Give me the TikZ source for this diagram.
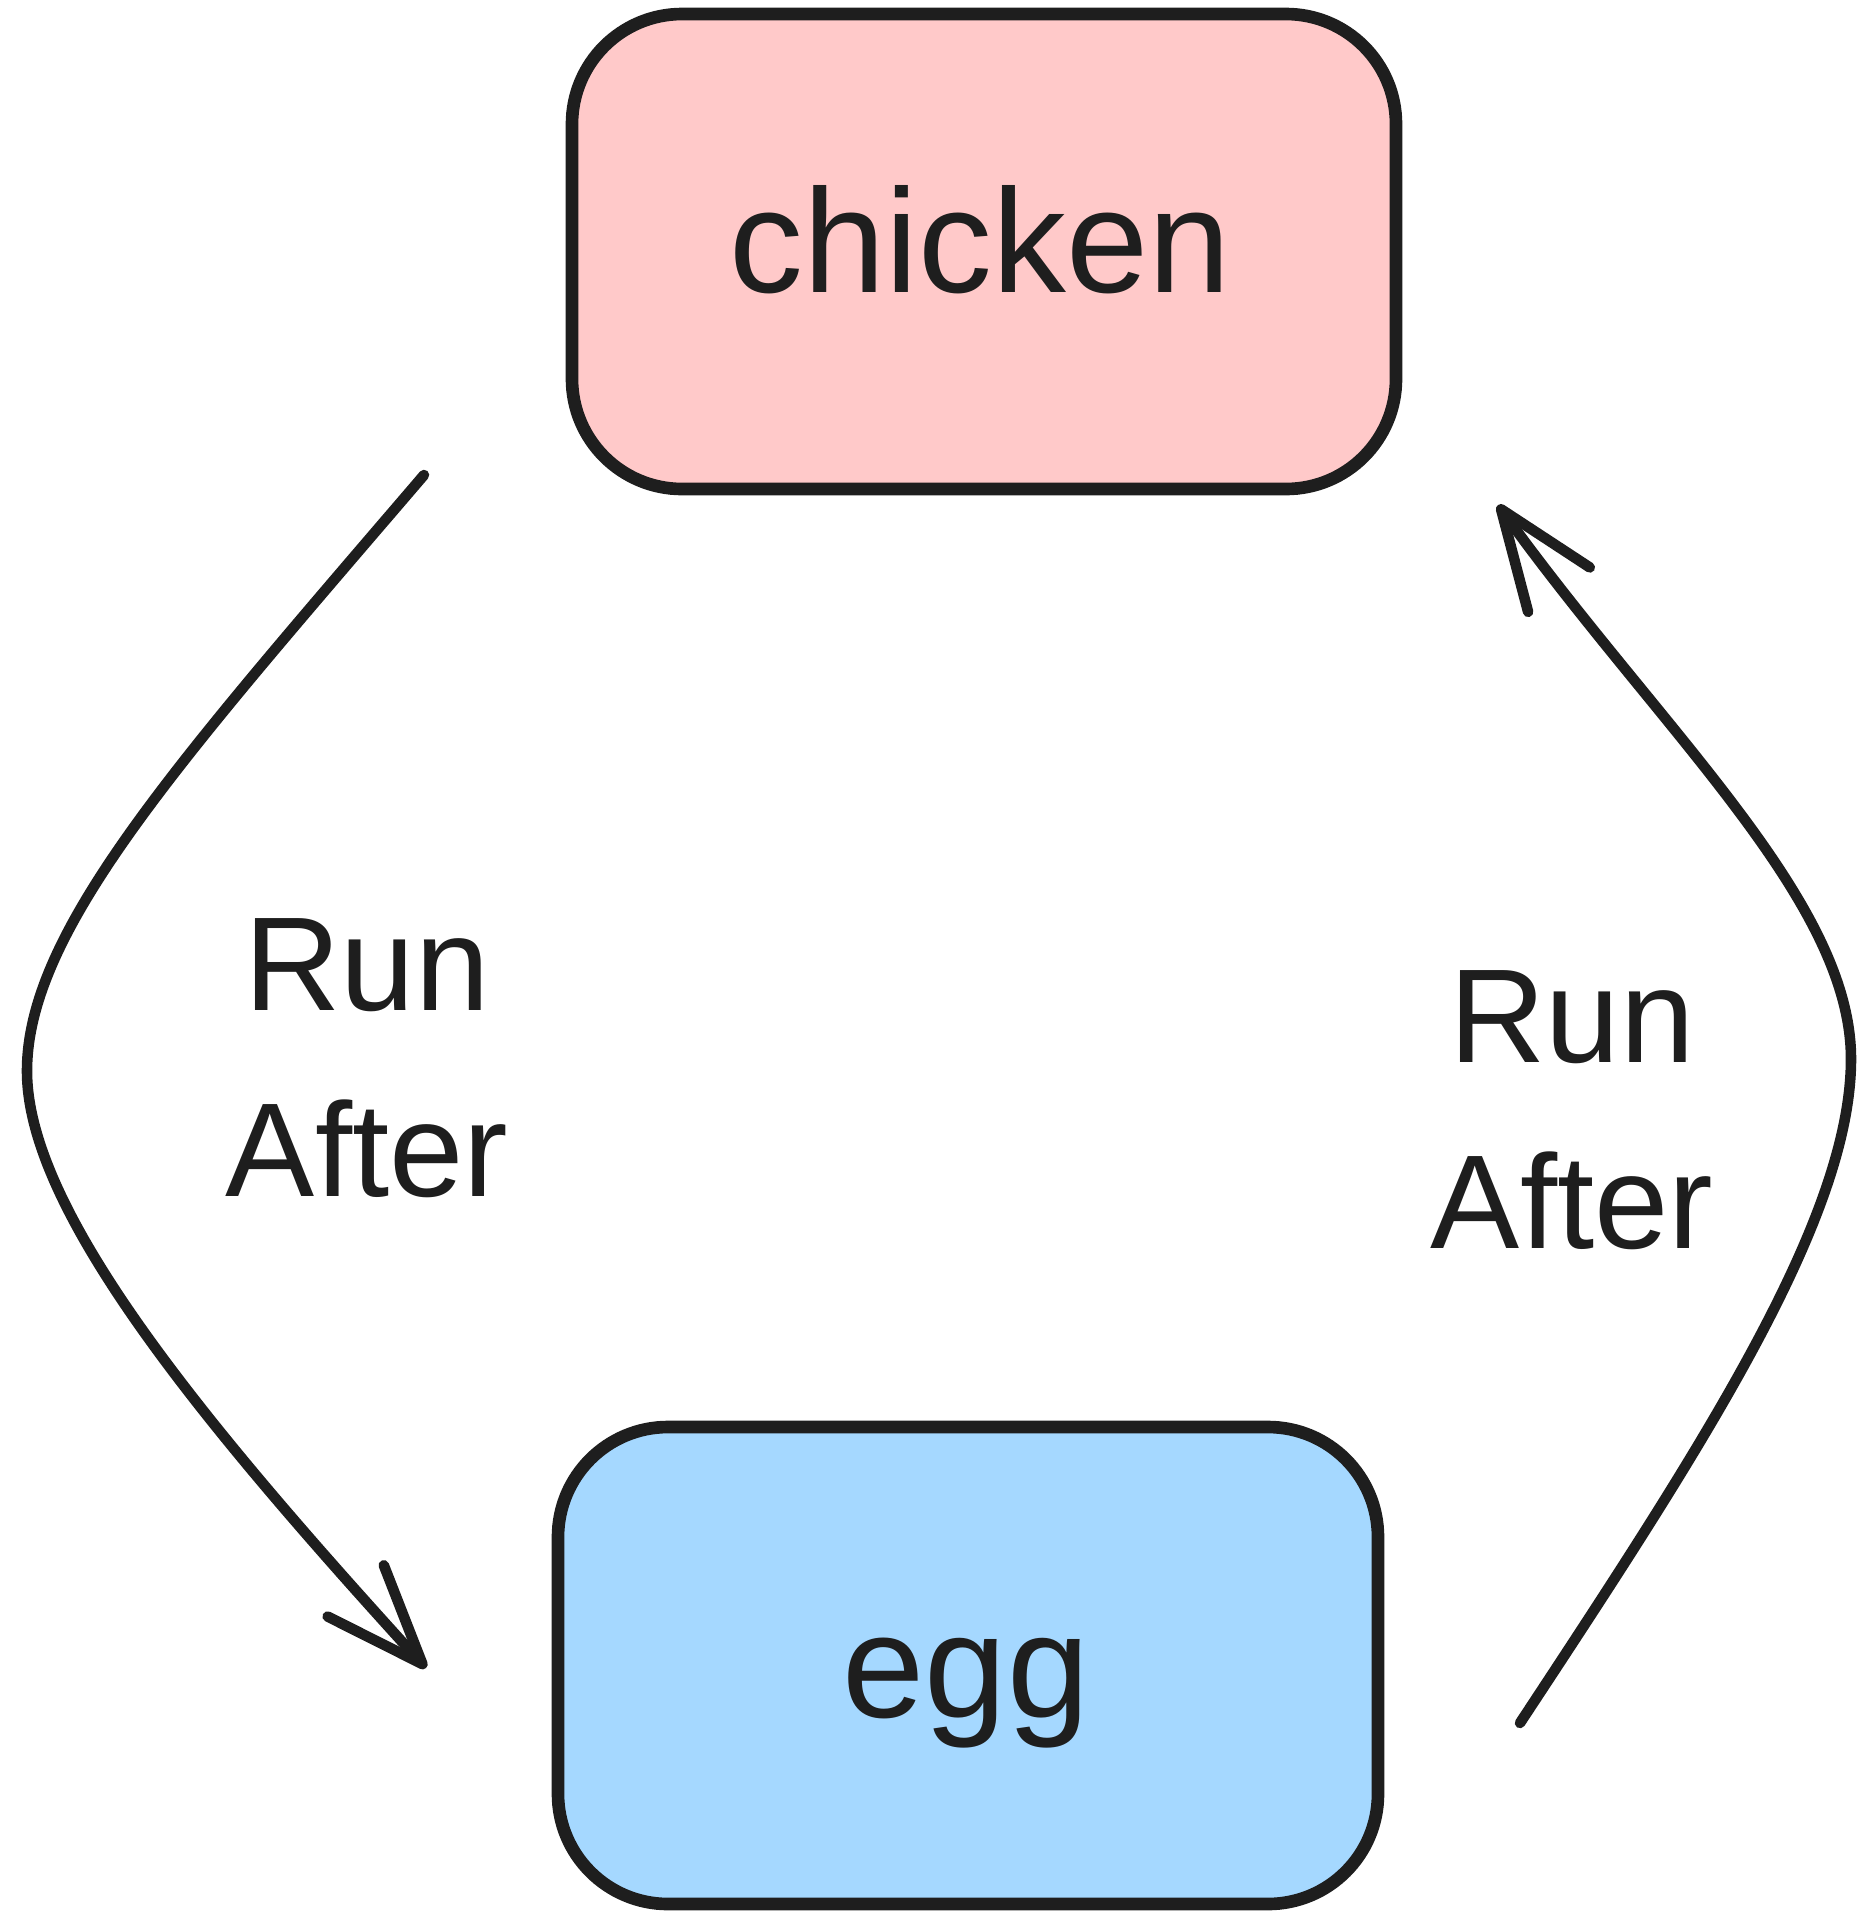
\documentclass[tikz,border=0pt]{standalone}
\usepackage{fontspec}
\setmainfont{Liberation Sans}
\usetikzlibrary{arrows.meta}
\definecolor{inkc}{HTML}{1E1E1E}
\definecolor{pinkfill}{HTML}{FFC9C9}
\definecolor{bluefill}{HTML}{A5D8FF}
\tikzset{
  boxstyle/.style={draw=inkc, line width=3.6pt, rounded corners=1.1cm},
  boxtext/.style={text=inkc, font=\fontsize{42}{50}\selectfont, anchor=base},
  lbl/.style={text=inkc, font=\fontsize{38}{53}\selectfont, align=center},
  conn/.style={draw=inkc, line width=3pt, line cap=round, line join=round,
    -{Straight Barb[length=0.99cm, width=0.76cm, line width=3pt, line cap=round, line join=round]}},
}
\begin{document}
\begin{tikzpicture}[x=0.01cm, y=-0.01cm]
\useasboundingbox (0,0) rectangle (1863,1917);
% boxes
\draw[boxstyle, fill=pinkfill] (572,14) rectangle (1396,489);
\draw[boxstyle, fill=bluefill] (558,1427) rectangle (1378,1904);
\node[boxtext] (chicken) at (980,292) {chicken};
\node[boxtext] (egg) at (966,1717) {egg};
\coordinate (cbl) at (424,475);
\coordinate (ebl) at (426,1668);
\coordinate (ebr) at (1520,1723);
\coordinate (cbr) at (1498,505);
% connectors
\draw[conn] (cbl) .. controls (180,760) and (27,930) .. (27,1071)
  .. controls (27,1210) and (200,1420) .. (ebl);
\draw[conn] (ebr) .. controls (1700,1450) and (1851,1220) .. (1851,1059)
  .. controls (1851,900) and (1660,730) .. (cbr);
% labels
\node[lbl] (l1) at (367,1058) {Run\\After};
\node[lbl] (l2) at (1572,1110) {Run\\After};
\end{tikzpicture}
\end{document}
